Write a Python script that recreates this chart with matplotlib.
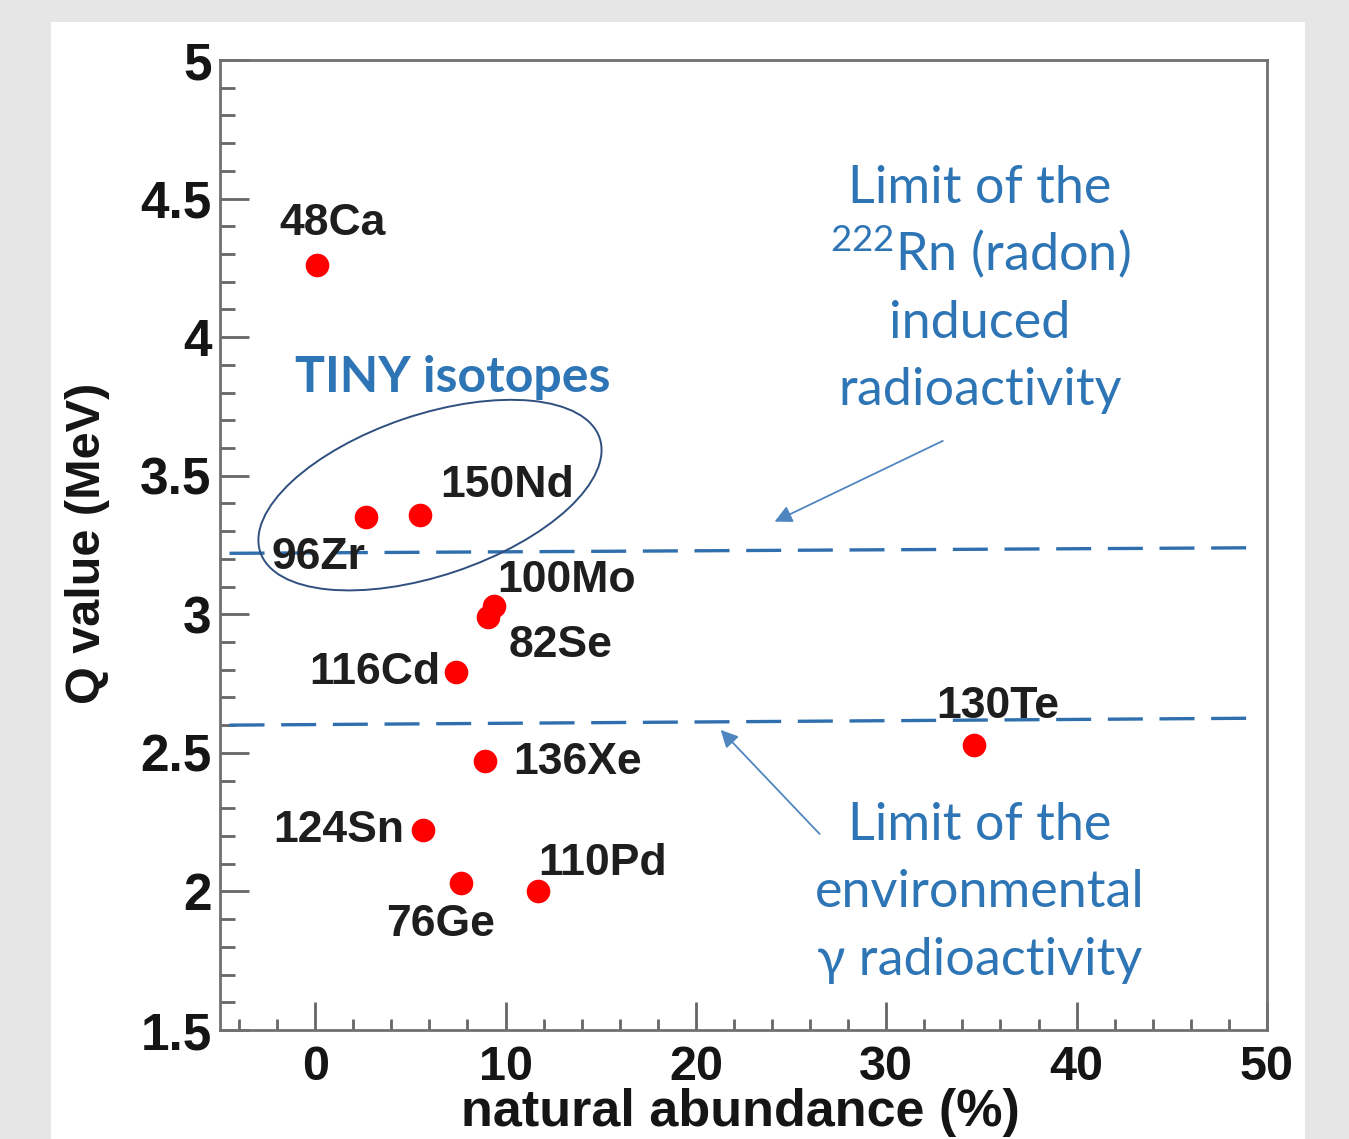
import matplotlib
matplotlib.use("Agg")
import matplotlib.pyplot as plt
from matplotlib.patches import Ellipse, Rectangle
from matplotlib.transforms import ScaledTranslation
from matplotlib.ticker import MultipleLocator

# ---- data ----
isotopes = ["48Ca", "150Nd", "96Zr", "100Mo", "82Se", "116Cd", "136Xe", "124Sn", "110Pd", "76Ge", "130Te"]
abundance = [0.1, 5.5, 2.65, 9.4, 9.1, 7.4, 8.9, 5.65, 11.7, 7.65, 34.6]
q_value = [4.26, 3.36, 3.35, 3.03, 2.99, 2.79, 2.47, 2.22, 2.00, 2.03, 2.53]

rn_limit_x = [-4.5, 49.3]
rn_limit_y = [3.22, 3.24]
gamma_limit_x = [-4.5, 49.3]
gamma_limit_y = [2.60, 2.625]

x_ticks = [0, 10, 20, 30, 40, 50]
y_ticks = [1.5, 2, 2.5, 3, 3.5, 4, 4.5, 5]
y_tick_labels = ["1.5", "2", "2.5", "3", "3.5", "4", "4.5", "5"]

# label offsets (pixels) and alignment
label_offsets = {
    "48Ca": (-38, 30, "left"),
    "150Nd": (20, 18, "left"),
    "96Zr": (-94, -52, "left"),
    "100Mo": (3, 14, "left"),
    "82Se": (20, -40, "left"),
    "116Cd": (-16, -12, "right"),
    "136Xe": (29, -13, "left"),
    "124Sn": (-18, -12, "right"),
    "110Pd": (0, 16, "left"),
    "76Ge": (-75, -53, "left"),
    "130Te": (-38, 27, "left"),
}

BLUE = "#2e75b6"
DASH = "#2f6fae"
ARROW = "#4f86c0"
ELL = "#2f4f7f"
LABEL_C = "#1e1e1e"
AX_C = "#707070"

plt.rcParams["mathtext.fontset"] = "custom"
plt.rcParams["mathtext.rm"] = "Lato"
plt.rcParams["mathtext.it"] = "Lato:italic"
plt.rcParams["mathtext.bf"] = "Lato:bold"

fig = plt.figure(figsize=(13.49, 11.39), dpi=100, facecolor="#e6e6e6")
fig.add_artist(Rectangle((51 / 1349, 0), (1305 - 51) / 1349, (1139 - 22) / 1139,
                         transform=fig.transFigure, facecolor="white", edgecolor="none", zorder=0))

ax = fig.add_axes([220 / 1349, 1 - 1030 / 1139, (1267 - 220) / 1349, (1030 - 60) / 1139])
ax.set_facecolor("white")
ax.set_xlim(-5, 50)
ax.set_ylim(1.5, 5)

for s in ax.spines.values():
    s.set_color(AX_C)
    s.set_linewidth(2.0)

ax.set_xticks(x_ticks)
ax.set_yticks(y_ticks)
ax.set_yticklabels(y_tick_labels)
ax.xaxis.set_minor_locator(MultipleLocator(2))
ax.yaxis.set_minor_locator(MultipleLocator(0.1))
ax.tick_params(which="both", direction="in", color="#666666", width=2.0, top=False, right=False)
ax.tick_params(axis="y", which="major", length=21, pad=6)
ax.tick_params(axis="y", which="minor", length=11)
ax.tick_params(axis="x", which="major", length=20, pad=11)
ax.tick_params(axis="x", which="minor", length=8)
for lab in ax.get_yticklabels():
    lab.set_fontfamily("Liberation Sans")
    lab.set_fontweight("bold")
    lab.set_fontsize(37)
    lab.set_color("#151515")
for lab in ax.get_xticklabels():
    lab.set_fontfamily("Liberation Sans")
    lab.set_fontweight("bold")
    lab.set_fontsize(35)
    lab.set_color("#151515")

ax.set_xlabel("natural abundance (%)", fontfamily="Liberation Sans", fontweight="bold",
              fontsize=37.5, color="#151515")
ax.xaxis.set_label_coords(0.497, 1 - (1126 - 60) / 970)
ax.xaxis.label.set_verticalalignment("baseline")
ax.set_ylabel("Q value (MeV)", fontfamily="Liberation Sans", fontweight="bold",
              fontsize=35, color="#151515")
ax.yaxis.set_label_coords(-0.127, 0.502)
ax.yaxis.label.set_verticalalignment("center")

# dashed limit lines
ax.plot(rn_limit_x, rn_limit_y, color=DASH, lw=2.4, dashes=(10.5, 5), zorder=2, clip_on=False)
ax.plot(gamma_limit_x, gamma_limit_y, color=DASH, lw=2.4, dashes=(10.5, 5), zorder=2, clip_on=False)

# points
ax.plot(abundance, q_value, "o", color="#ff0000", markersize=17, markeredgewidth=0, zorder=4)

# isotope labels
for name, x, y in zip(isotopes, abundance, q_value):
    dx, dy, ha = label_offsets[name]
    ax.annotate(name, (x, y), xytext=(dx, dy), textcoords="offset pixels",
                ha=ha, va="baseline", fontfamily="Liberation Sans", fontweight="bold",
                fontsize=32, color=LABEL_C, zorder=5)

# ellipse around TINY isotopes
tr = fig.dpi_scale_trans + ScaledTranslation(6.03, 3.43, ax.transData)
ax.add_patch(Ellipse((0, 0), width=3.58, height=1.61, angle=18.6, transform=tr,
                     fill=False, edgecolor=ELL, lw=1.4, zorder=3))

ax.text(0.2225, 0.658, "TINY isotopes", transform=ax.transAxes, ha="center", va="baseline",
        fontfamily="Lato", fontweight="bold", fontsize=36, color=BLUE)

upper_lines = ["Limit of the", r"$^{222}$Rn (radon)", "induced", "radioactivity"]
upper_base = [203, 270, 338, 405]
for txt, b in zip(upper_lines, upper_base):
    ax.text((980 - 220) / 1047, 1 - (b - 60) / 970, txt, transform=ax.transAxes,
            ha="center", va="baseline", fontfamily="Lato", fontsize=37.5, color=BLUE)

lower_lines = ["Limit of the", "environmental", "γ radioactivity"]
lower_base = [840, 907, 975]
for txt, b in zip(lower_lines, lower_base):
    ax.text((980 - 220) / 1047, 1 - (b - 60) / 970, txt, transform=ax.transAxes,
            ha="center", va="baseline", fontfamily="Lato", fontsize=37.5, color=BLUE)

# arrows
ax.annotate("", xy=(24.0, 3.33), xytext=(33.1, 3.63),
            arrowprops=dict(arrowstyle="-|>", color=ARROW, lw=1.3, mutation_scale=26))
ax.annotate("", xy=(21.2, 2.59), xytext=(26.6, 2.20),
            arrowprops=dict(arrowstyle="-|>", color=ARROW, lw=1.3, mutation_scale=26))

fig.savefig("out.png", dpi=100, facecolor=fig.get_facecolor())
